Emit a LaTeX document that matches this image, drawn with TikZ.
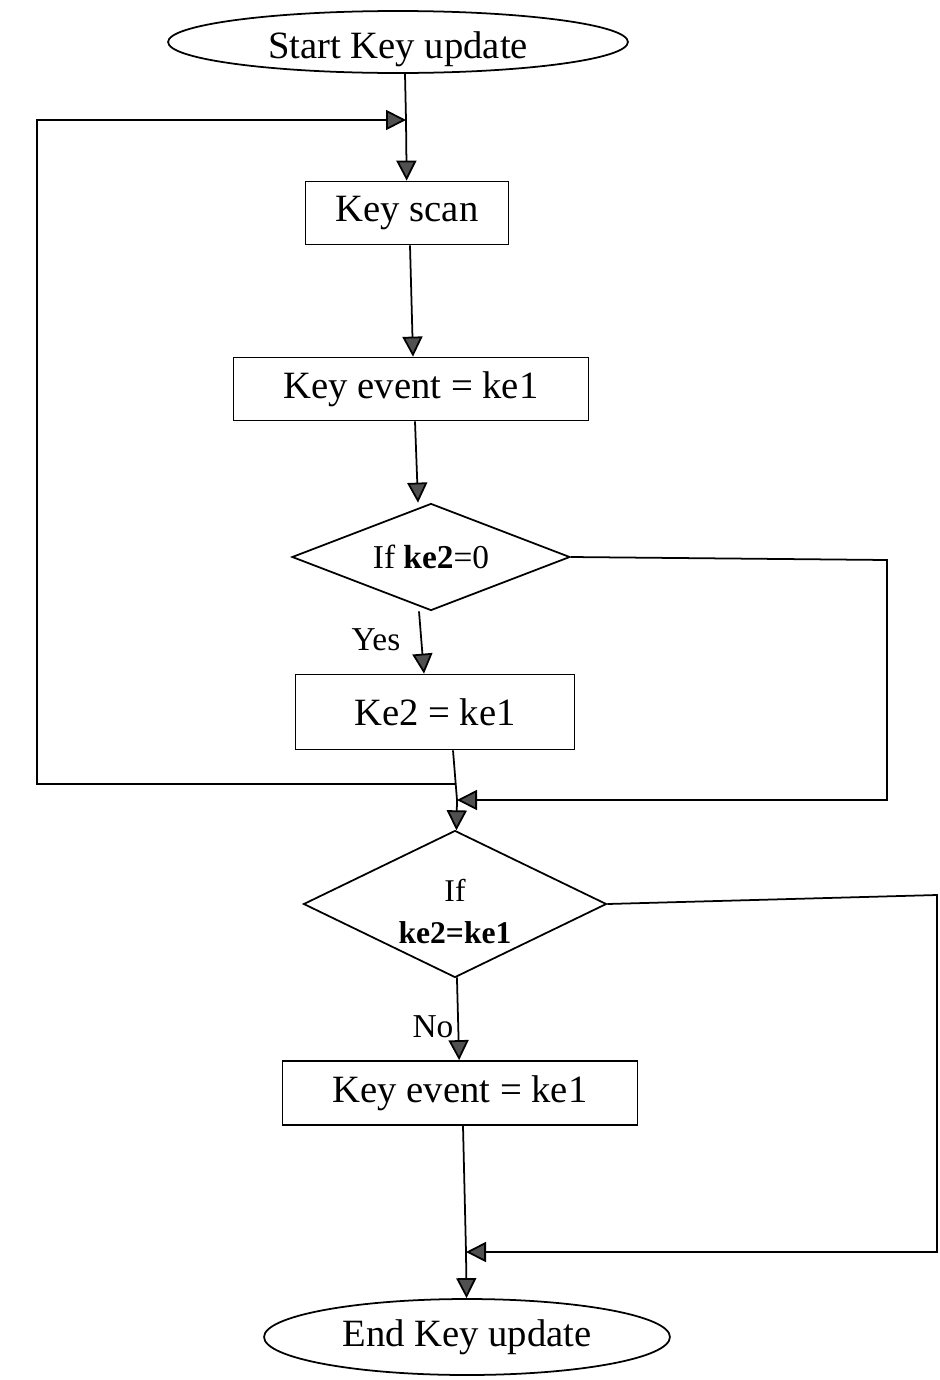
\documentclass[tikz,border=0pt]{standalone}
\usepackage{fontspec}
\setmainfont{Liberation Serif}
\usetikzlibrary{shapes.geometric,arrows.meta}
\definecolor{tipgray}{HTML}{505050}
\newcommand{\lowered}[2]{\raisebox{-#1}[\height][\depth]{#2}}
\tikzset{
  flow/.style={line width=1pt, draw=black},
  arr/.style={flow, -{Triangle[length=0.4cm,width=0.4cm,fill=tipgray]}},
  procbox/.style={draw, line width=1pt, rectangle, inner sep=0pt,
    font=\fontsize{22}{26}\selectfont},
  termnode/.style={draw, line width=1pt, ellipse, inner sep=0pt,
    font=\fontsize{22}{26}\selectfont},
  decide/.style={draw, line width=1pt, diamond, inner sep=0pt,
    font=\fontsize{19}{24}\selectfont, align=center},
  branch/.style={font=\fontsize{19}{22}\selectfont, inner sep=0pt}
}
\begin{document}
\begin{tikzpicture}[x=0.02cm, y=-0.02cm]
  \useasboundingbox (0,0) rectangle (940,1380);

  % process steps
  \node[termnode, minimum width=9.2cm, minimum height=1.24cm] (start) at (398,42) {\lowered{4pt}{Start Key update}};
  \node[procbox, minimum width=4.06cm, minimum height=1.26cm] (scan) at (407,213) {Key scan};
  \node[procbox, minimum width=7.1cm, minimum height=1.26cm] (ev1) at (411,389) {Key event = ke1};
  \node[decide, shape aspect=2.6, minimum width=5.56cm, minimum height=2.14cm] (d1) at (431,557) {If \textbf{ke2}=0};
  \node[procbox, minimum width=5.58cm, minimum height=1.5cm] (ke2) at (435,712) {Ke2 = ke1};
  \node[decide, shape aspect=2.06, minimum width=6.06cm, minimum height=2.94cm, font=\fontsize{18}{24}\selectfont] (d2) at (455,904) {\lowered{5.5pt}{\begin{tabular}{@{}c@{}}If\\\textbf{ke2=ke1}\end{tabular}}};
  \node[procbox, minimum width=7.1cm, minimum height=1.28cm] (ev2) at (460,1093) {Key event = ke1};
  \node[termnode, minimum width=8.12cm, minimum height=1.52cm] (end) at (467,1337) {End Key update};

  % junctions and loop corners
  \coordinate (j1) at (406,120);
  \coordinate (jl) at (455,784);
  \coordinate (j2) at (457,800);
  \coordinate (j3) at (466,1252);
  \coordinate (lb) at (37,784);
  \coordinate (lt) at (37,120);
  \coordinate (r1t) at (887,560);
  \coordinate (r1b) at (887,800);
  \coordinate (r2t) at (937,895);
  \coordinate (r2b) at (937,1252);

  % main flow
  \draw[flow] ([xshift=0.14cm]start.south) -- (j1);
  \draw[arr] (j1) -- (scan);
  \draw[arr] ([xshift=0.06cm]scan.south) -- ([xshift=0.04cm]ev1.north);
  \draw[arr] ([xshift=0.08cm]ev1.south) -- ([xshift=-0.26cm]d1.north);
  \draw[arr] ([xshift=-0.24cm]d1.south) -- ([xshift=-0.22cm]ke2.north);
  \draw[flow] ([xshift=0.36cm]ke2.south) -- (j2);
  \draw[arr] (j2) -- (d2);
  \draw[arr] (d2) -- (ev2);
  \draw[flow] ([xshift=0.06cm]ev2.south) -- (j3);
  \draw[arr] (j3) -- (end);

  % loops
  \draw[arr] (jl) -- (lb) -- (lt) -- (j1);
  \draw[arr] (d1.east) -- (r1t) -- (r1b) -- (j2);
  \draw[arr] (d2.east) -- (r2t) -- (r2b) -- (j3);

  % branch labels
  \node[branch] (yes) at (376,640) {Yes};
  \node[branch] (no) at (433,1027) {No};
\end{tikzpicture}
\end{document}
